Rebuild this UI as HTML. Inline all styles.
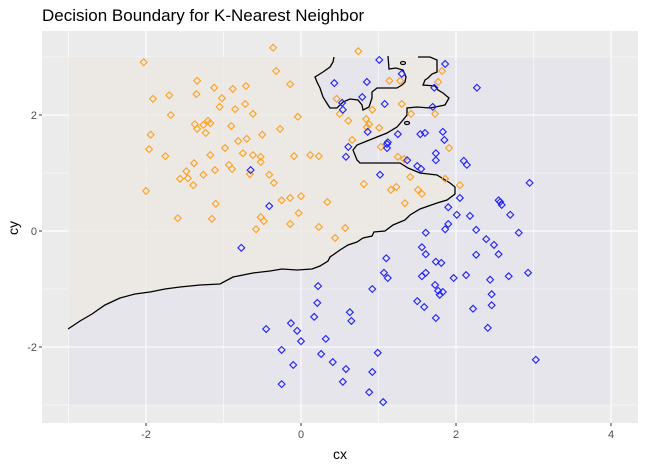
<!DOCTYPE html>
<html><head><meta charset="utf-8"><style>
html,body{margin:0;padding:0;background:#fff;}
svg{display:block;font-family:"Liberation Sans",sans-serif;}
</style></head><body>
<svg id="chart" width="645" height="466" viewBox="0 0 645 466" xmlns="http://www.w3.org/2000/svg">
<text x="42" y="21" font-size="17" fill="#000">Decision Boundary for K-Nearest Neighbor</text>
<rect x="42" y="31" width="596" height="392" fill="#EBEBEB"/>
<g id="grid"></g>
<g id="regions"></g>
<g id="points"></g>
<g id="axes"></g>
<text x="340" y="459" font-size="14" text-anchor="middle" fill="#000">cx</text>
<text x="0" y="0" font-size="14" text-anchor="middle" fill="#000" transform="translate(18,228) rotate(-90)">cy</text>
</svg>
<script>
const orangeX=[-2.03,-0.36,-0.32,-1.34,-1.12,-0.88,-0.71,-0.14,-1.91,-1.70,-1.35,-1.02,-1.05,-0.85,-0.72,-1.68,-0.62,-0.04,-1.37,-1.26,-1.20,-1.17,-1.34,-0.90,-0.27,-1.94,-1.23,-0.50,-0.81,-0.70,-1.96,-0.98,-1.75,-1.17,-0.75,-0.62,-0.52,-0.09,0.12,0.23,-1.38,-0.93,-0.89,-0.52,-1.48,-1.11,-1.56,-1.46,-1.26,-0.66,-0.41,-0.35,-1.39,-2.00,-1.10,-0.25,-0.14,0.00,0.34,-1.59,-1.15,-0.52,-0.48,-0.58,-0.14,-0.03,0.23,0.74,1.82,1.14,1.28,1.77,0.46,0.50,0.92,1.30,1.42,1.73,0.61,0.84,0.88,0.85,1.01,0.66,1.03,1.91,1.25,1.33,1.41,1.86,0.81,1.16,1.23,1.51,1.56,2.05,1.34,0.57,0.44];
const orangeY=[2.91,3.16,2.76,2.59,2.47,2.45,2.50,2.53,2.28,2.34,2.36,2.29,2.14,2.10,2.19,2.00,2.02,1.97,1.84,1.83,1.90,1.86,1.76,1.81,1.76,1.66,1.69,1.66,1.55,1.59,1.41,1.43,1.29,1.31,1.34,1.31,1.28,1.29,1.31,1.29,1.17,1.14,1.07,1.19,1.03,1.05,0.90,0.91,0.97,0.98,0.97,0.83,0.79,0.69,0.47,0.53,0.57,0.60,0.50,0.22,0.21,0.24,0.17,0.03,0.12,0.31,0.07,3.10,2.76,2.59,2.59,2.57,2.28,2.02,2.09,2.19,2.02,2.02,1.90,1.93,1.84,1.79,1.78,1.57,1.45,1.43,1.28,1.24,0.93,0.90,0.81,0.71,0.76,0.71,0.64,0.79,0.48,0.05,-0.12];
const blueX=[-0.65,-0.41,-0.77,1.01,1.86,1.30,0.43,0.85,2.27,1.72,0.79,0.53,0.54,1.08,1.70,0.86,1.25,1.54,1.60,1.83,1.12,1.11,1.11,0.61,1.85,0.58,1.74,1.74,1.37,1.50,1.55,2.10,2.14,1.02,2.05,1.90,2.01,2.18,1.90,1.86,1.61,2.26,2.95,2.55,2.57,2.59,2.70,2.81,2.39,2.49,1.56,2.26,2.55,1.61,1.74,1.81,1.56,1.61,1.97,2.13,2.44,2.68,2.93,1.73,1.77,1.79,1.83,2.46,1.50,1.59,2.46,2.22,1.74,2.41,3.03,1.10,1.07,1.12,0.92,0.22,0.21,0.63,0.65,0.17,-0.45,-0.13,-0.05,0.00,0.32,-0.25,0.26,0.41,0.99,-0.10,0.58,0.92,0.54,-0.25,0.88,1.06];
const blueY=[1.05,0.43,-0.29,2.95,2.88,2.71,2.55,2.57,2.47,2.47,2.31,2.21,2.09,2.19,2.14,1.71,1.67,1.67,1.69,1.71,1.53,1.50,1.43,1.45,1.57,1.28,1.34,1.22,1.22,1.12,1.07,1.21,1.14,0.97,0.57,0.41,0.28,0.26,0.12,0.03,-0.03,0.02,0.83,0.53,0.50,0.45,0.28,-0.03,-0.14,-0.24,-0.28,-0.41,-0.40,-0.40,-0.53,-0.55,-0.78,-0.72,-0.81,-0.76,-0.84,-0.78,-0.72,-0.93,-1.03,-1.10,-1.05,-1.09,-1.21,-1.31,-1.28,-1.34,-1.50,-1.67,-2.22,-0.47,-0.72,-0.81,-1.00,-0.95,-1.24,-1.40,-1.55,-1.48,-1.69,-1.59,-1.72,-1.90,-1.86,-2.05,-2.12,-2.26,-2.10,-2.31,-2.38,-2.43,-2.60,-2.64,-2.78,-2.95];
const xTicks=[-2,0,2,4];
const yTicks=[-2,0,2];
const xMinor=[-3,-1,1,3];
const yMinor=[-3,-1,1,3];

const NS="http://www.w3.org/2000/svg";
const P={l:42,r:638,t:31,b:423};
function sx(v){return 301+v*77.5;}
function sy(v){return 231-v*58;}
function mk(tag,attrs,parent){const e=document.createElementNS(NS,tag);for(const k in attrs)e.setAttribute(k,attrs[k]);parent.appendChild(e);return e;}

const grid=document.getElementById('grid');
xMinor.forEach(v=>{const l=mk('line',{x1:sx(v),x2:sx(v),y1:P.t,y2:P.b,stroke:'#fff','stroke-width':0.6},grid);

});
yMinor.forEach(v=>{const l=mk('line',{x1:P.l,x2:P.r,y1:sy(v),y2:sy(v),stroke:'#fff','stroke-width':0.6},grid);

});
xTicks.forEach(v=>{const l=mk('line',{x1:sx(v),x2:sx(v),y1:P.t,y2:P.b,stroke:'#fff','stroke-width':1.2},grid);

});
yTicks.forEach(v=>{const l=mk('line',{x1:P.l,x2:P.r,y1:sy(v),y2:sy(v),stroke:'#fff','stroke-width':1.2},grid);

});

// regions (grid spans x -3..4, y -3..3)
const reg=document.getElementById('regions');
const gx0=sx(-3),gx1=sx(4),gy0=sy(3),gy1=sy(-3);
const blueR=mk('rect',{x:gx0,y:gy0,width:gx1-gx0,height:gy1-gy0,fill:'#6a6aff','fill-opacity':0.045},reg);


const mainB="M68,329 L80,321 L92,314 L105,305 L120,298 L135,294 L150,292 L165,289 L180,287 L200,285 L220,284 L233,277 L243,275 L253,273 L270,271 L282,269 L297,270 L312,269 L320,266 L328,261 L330,257 L340,250 L348,245 L357,242 L363,238 L372,236 L374,232 L385,231 L393,225 L405,220 L410,215 L420,209 L437,203 L447,200 L455,194 L455,187 L450,183 L437,175 L420,173 L408,168 L400,163 L390,163 L380,163 L360,163 L357,160 L355,155 L353,150 L357,145 L367,141 L377,137 L387,133 L397,127 L403,120 L407,115 L407,108 L417,107 L430,108 L445,105 L449,98 L443,93 L438,90 L435,86 L423,85 L425,80 L428,78 L432,74 L437,72 L437,60 L430,57 L418,57";
const topB="M334,57 L333,62 L330,67 L323,72 L315,77 L317,82 L320,88 L323,97 L328,105 L330,108 L337,108 L343,102 L350,99 L358,100 L362,105 L363,110 L369,107 L372,98 L372,92 L377,88 L387,88 L397,88 L402,85 L405,82 L406,77 L403,70 L396,68 L389,69 L388,56";
const orangeFill=mainB+" L418,55 L"+gx0+",55 Z "+topB+" Z";
const oR=mk('path',{d:mainB+" L388,57 "+topB.replace('M','L').split(' ').reverse().join(' ').replace(/L(\d+),(\d+)/g,(m,a,b)=>'L'+a+','+b)+" L334,57 L"+gx0+",57 Z",fill:'#EDEAE3','fill-opacity':0.8},reg);
oR.setAttribute('d',mainB+" L388,57 L389,69 L396,68 L403,70 L406,77 L405,82 L402,85 L397,88 L387,88 L377,88 L372,92 L372,98 L369,107 L363,110 L362,105 L358,100 L350,99 L343,102 L337,108 L330,108 L328,105 L323,97 L320,88 L317,82 L315,77 L323,72 L330,67 L333,62 L334,57 L"+gx0+",57 Z");


const l1=mk('path',{d:mainB,fill:'none',stroke:'#000','stroke-width':1.3},reg);


const l2=mk('path',{d:topB,fill:'none',stroke:'#000','stroke-width':1.3},reg);


[[403,63],[407,123]].forEach(c=>{const e=mk('ellipse',{cx:c[0],cy:c[1],rx:2.5,ry:1.5,fill:'none',stroke:'#000','stroke-width':1.2},reg);

});

const pts=document.getElementById('points');
function diamond(x,y,color,name){const cx=sx(x),cy=sy(y),r=3.4;
const p=mk('path',{d:`M${cx},${cy-r} L${cx+r},${cy} L${cx},${cy+r} L${cx-r},${cy} Z`,fill:'none',stroke:color,'stroke-width':1.1},pts);

}
orangeX.forEach((x,i)=>diamond(x,orangeY[i],'#FF9F1C','orange-point'));
blueX.forEach((x,i)=>diamond(x,blueY[i],'#2020FF','blue-point'));

const ax=document.getElementById('axes');
xTicks.forEach(v=>{const t=mk('line',{x1:sx(v),x2:sx(v),y1:P.b,y2:P.b+3,stroke:'#333','stroke-width':1},ax);


const tx=mk('text',{x:sx(v),y:P.b+15,'font-size':11,'text-anchor':'middle',fill:'#4d4d4d'},ax);tx.textContent=v;

});
yTicks.forEach(v=>{const t=mk('line',{x1:P.l-3,x2:P.l,y1:sy(v),y2:sy(v),stroke:'#333','stroke-width':1},ax);


const tx=mk('text',{x:P.l-5,y:sy(v)+4,'font-size':11,'text-anchor':'end',fill:'#4d4d4d'},ax);tx.textContent=v;

});
</script>
</body></html>
